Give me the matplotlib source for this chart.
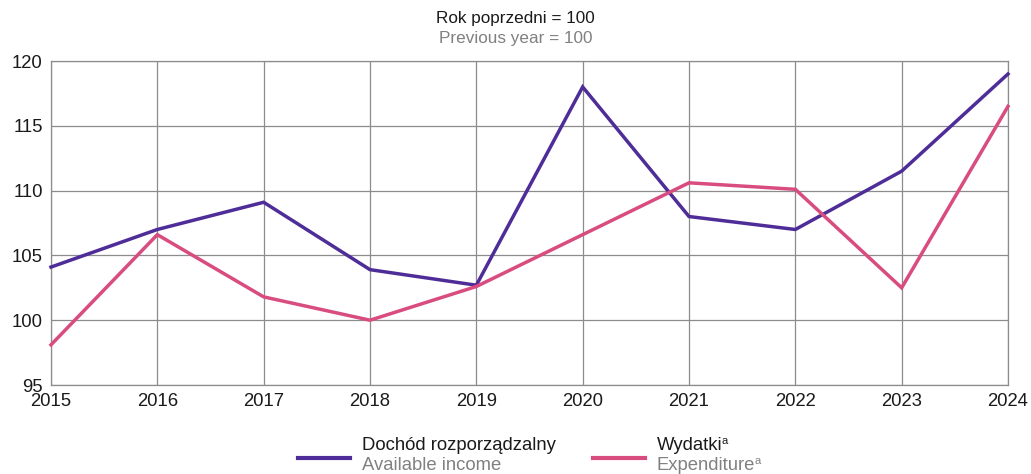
import matplotlib
matplotlib.use("Agg")
import matplotlib.pyplot as plt
from matplotlib.lines import Line2D

plt.rcParams["font.family"] = ["Liberation Sans", "DejaVu Sans"]

years = [2015, 2016, 2017, 2018, 2019, 2020, 2021, 2022, 2023, 2024]
income = [104.1, 107.0, 109.1, 103.9, 102.7, 118.0, 108.0, 107.0, 111.5, 119.0]
expenditure = [98.1, 106.6, 101.8, 100.0, 102.6, 106.6, 110.6, 110.1, 102.5, 116.5]
y_ticks = [95, 100, 105, 110, 115, 120]

purple = "#4f2d98"
pink = "#d94c80"
grid_col = "#8c8c8c"

fig = plt.figure(figsize=(10.31, 4.74), dpi=100)
ax = fig.add_axes([51 / 1031, 1 - 385 / 474, (1008 - 51) / 1031, (385 - 61) / 474])

ax.plot(years, income, color=purple, lw=2.5, solid_joinstyle="miter", zorder=3, clip_on=False)
ax.plot(years, expenditure, color=pink, lw=2.5, solid_joinstyle="miter", zorder=3, clip_on=False)

ax.set_xlim(years[0], years[-1])
ax.set_ylim(95, 120)
ax.set_xticks(years)
ax.set_yticks(y_ticks)
ax.grid(True, color=grid_col, lw=0.9)
ax.set_axisbelow(True)
for s in ax.spines.values():
    s.set_color(grid_col)
    s.set_linewidth(0.9)
ax.tick_params(length=0, labelsize=13.3, colors="#1a1a1a")
ax.tick_params(axis="x", pad=6)
ax.tick_params(axis="y", pad=6)

fig.text(0.5, 1 - 19 / 474, "Rok poprzedni = 100", ha="center", va="center",
         fontsize=12.3, color="#1a1a1a")
fig.text(0.5, 1 - 38 / 474, "Previous year = 100", ha="center", va="center",
         fontsize=12.3, color="#808080")

# legend drawn by hand
legend_items = [
    (purple, 298, 362, "Dochód rozporządzalny", "Available income", False),
    (pink, 593, 657, "Wydatki", "Expenditure", True),
]
renderer = fig.canvas.get_renderer()
for col, x0, xt, top, bottom, note in legend_items:
    fig.add_artist(Line2D([x0 / 1031, (x0 + 52) / 1031], [1 - 458 / 474] * 2,
                          color=col, lw=3, transform=fig.transFigure))
    t1 = fig.text(xt / 1031, 1 - 446 / 474, top, ha="left", va="center",
                  fontsize=13.3, color="#1a1a1a")
    t2 = fig.text(xt / 1031, 1 - 466 / 474, bottom, ha="left", va="center",
                  fontsize=13.3, color="#808080")
    if note:
        # small superscript "a" right after the text
        for t, c, yy in [(t1, "#1a1a1a", 441), (t2, "#808080", 461)]:
            x_end = t.get_window_extent(renderer).x1 - 1
            fig.text(x_end / 1031, 1 - yy / 474, "a", ha="left", va="center",
                     fontsize=8, color=c)

fig.savefig("out.png", dpi=100)
